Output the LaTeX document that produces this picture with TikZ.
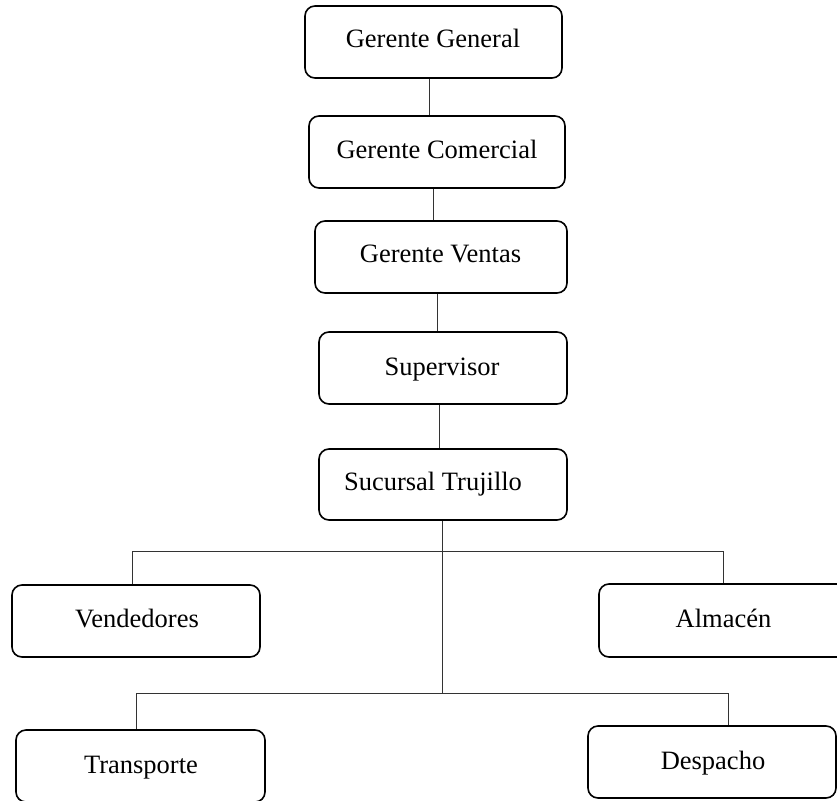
\documentclass[tikz,border=0pt]{standalone}
\usepackage{fontspec}
\setmainfont{Liberation Serif}
\begin{document}
\begin{tikzpicture}[x=1pt,y=-1pt,
  box/.style={draw=black, line width=1.6pt, rounded corners=10pt, inner sep=0pt, fill=white},
  lbl/.style={anchor=base, inner sep=0pt, font=\fontsize{26.5}{30}\selectfont},
  conn/.style={draw=black!80, line width=0.9pt}]
\useasboundingbox (0,0) rectangle (837,800);
\clip (0,0) rectangle (837,800);
\fill[white] (0,0) rectangle (837,800);
% boxes
\node[box, minimum width=257pt, minimum height=72pt] (GG) at (433.5,42) {};
\node[box, minimum width=256pt, minimum height=72pt] (GC) at (437,152) {};
\node[box, minimum width=252pt, minimum height=72pt] (GV) at (441,257) {};
\node[box, minimum width=248pt, minimum height=72pt] (SU) at (443,368) {};
\node[box, minimum width=248pt, minimum height=71pt] (ST) at (443,484.5) {};
\node[box, minimum width=248pt, minimum height=72pt] (VE) at (136,621) {};
\node[box, minimum width=248pt, minimum height=73pt] (AL) at (723,620.5) {};
\node[box, minimum width=249pt, minimum height=72pt] (TR) at (140.5,766) {};
\node[box, minimum width=248pt, minimum height=72pt] (DE) at (712,762) {};
% labels
\node[lbl] (tGG) at (433,48) {Gerente General};
\node[lbl] (tGC) at (437,158) {Gerente Comercial};
\node[lbl] (tGV) at (440.5,262) {Gerente Ventas};
\node[lbl] (tSU) at (442,375) {Supervisor};
\node[lbl] (tST) at (433,490) {Sucursal Trujillo};
\node[lbl] (tVE) at (137,627) {Vendedores};
\node[lbl] (tAL) at (723.5,627) {Almacén};
\node[lbl] (tTR) at (141,773) {Transporte};
\node[lbl] (tDE) at (713,769) {Despacho};
% connector guide coordinates
\coordinate (c1) at (429,0);
\coordinate (c2) at (433,0);
\coordinate (c3) at (437,0);
\coordinate (c4) at (439.5,0);
\coordinate (c5) at (442.5,0);
\coordinate (j1) at (132,551);
\coordinate (j2) at (723,551);
\coordinate (j3) at (136,693);
\coordinate (j4) at (728,693);
% connectors
\draw[conn] (GG.south -| c1) -- (GC.north -| c1);
\draw[conn] (GC.south -| c2) -- (GV.north -| c2);
\draw[conn] (GV.south -| c3) -- (SU.north -| c3);
\draw[conn] (SU.south -| c4) -- (ST.north -| c4);
\draw[conn] (ST.south -| c5) -- (c5 |- j3);
\draw[conn] (VE.north -| j1) -- (j1) -- (j2) -- (AL.north -| j2);
\draw[conn] (TR.north -| j3) -- (j3) -- (j4) -- (DE.north -| j4);
\end{tikzpicture}
\end{document}
